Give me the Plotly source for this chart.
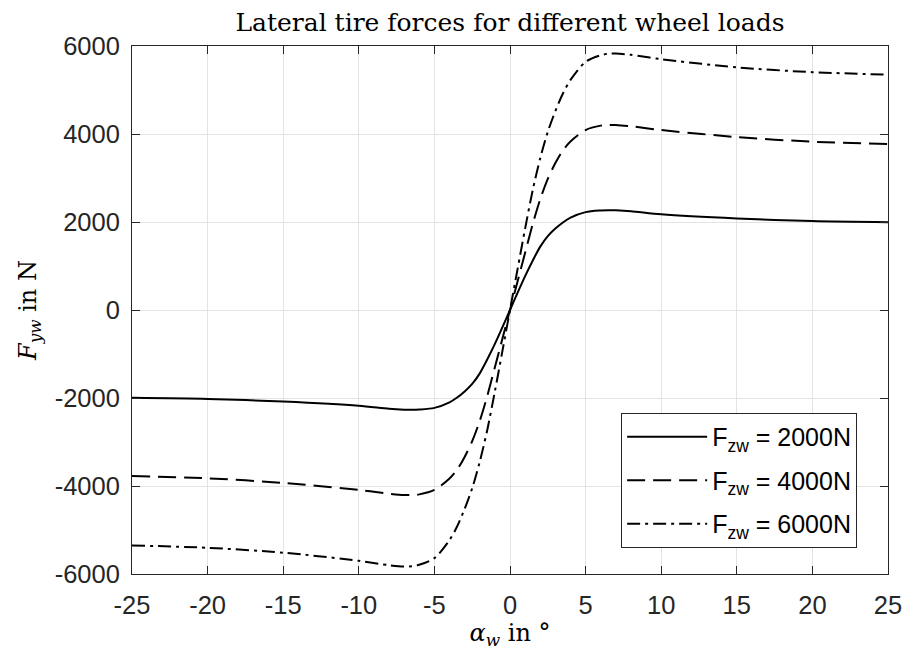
import plotly.graph_objects as go

# Slip angle samples (deg) and lateral tire force (N) for three wheel loads
alpha_w = [-25, -20, -15, -10, -8, -7, -6.5, -6, -5, -4, -3.5, -3, -2.5, -2, -1.5, -1, -0.5,
           0, 0.5, 1, 1.5, 2, 2.5, 3, 3.5, 4, 5, 6, 6.5, 7, 8, 10, 15, 20, 25]

fy_2000 = [-1995, -2020, -2080, -2175, -2245, -2265, -2268, -2262, -2225, -2100, -1990, -1850, -1680, -1440, -1120, -770, -390,
           0, 390, 770, 1120, 1440, 1680, 1850, 1990, 2100, 2225, 2262, 2268, 2265, 2245, 2175, 2080, 2020, 1995]

fy_4000 = [-3775, -3825, -3930, -4090, -4175, -4205, -4205, -4190, -4090, -3830, -3630, -3340, -2980, -2520, -1950, -1300, -650,
           0, 650, 1300, 1950, 2520, 2980, 3340, 3630, 3830, 4090, 4190, 4205, 4205, 4175, 4090, 3930, 3825, 3775]

fy_6000 = [-5350, -5405, -5515, -5700, -5800, -5830, -5825, -5790, -5640, -5230, -4920, -4520, -4050, -3450, -2720, -1850, -930,
           0, 930, 1850, 2720, 3450, 4050, 4520, 4920, 5230, 5640, 5790, 5825, 5830, 5800, 5700, 5515, 5405, 5350]

series_names = ["F<sub>zw</sub> = 2000N", "F<sub>zw</sub> = 4000N", "F<sub>zw</sub> = 6000N"]
x_ticks = [-25, -20, -15, -10, -5, 0, 5, 10, 15, 20, 25]
y_ticks = [-6000, -4000, -2000, 0, 2000, 4000, 6000]

dash_styles = ["solid", "18px,8px", "13px,5px,3px,5px"]

serif = "DejaVu Serif, Liberation Serif, serif"
sans = "Liberation Sans, Arial, sans-serif"

fig = go.Figure()
for i, (name, fy, dash) in enumerate(zip(series_names, [fy_2000, fy_4000, fy_6000], dash_styles)):
    fig.add_trace(go.Scatter(
        x=alpha_w, y=fy, mode="lines", name=name, legendgroup=f"g{i}",
        line=dict(color="black", width=2, dash=dash, shape="spline", smoothing=0.8),
    ))

axis_common = dict(
    showline=True, linecolor="#262626", linewidth=1, mirror="ticks",
    ticks="inside", ticklen=8, tickcolor="#262626", tickwidth=1,
    showgrid=True, gridcolor="#e3e3e3", gridwidth=1, zeroline=False,
    automargin=False,
    tickfont=dict(family=sans, size=25.5, color="#262626"),
)

fig.update_layout(
    template="none",
    width=904, height=655,
    margin=dict(l=131.5, r=16, t=45.5, b=80.5),
    paper_bgcolor="white", plot_bgcolor="white",
    title=dict(
        text="Lateral tire forces for different wheel loads",
        font=dict(family=serif, size=25, color="black"),
        x=0.5, xref="paper", xanchor="center", y=0.966, yanchor="middle",
    ),
    xaxis=dict(
        range=[-25, 25], tickvals=x_ticks, ticktext=[str(v) for v in x_ticks],
        ticklabelstandoff=8,
        title=dict(text="<i>α</i><sub><i>w</i></sub> in °", standoff=1,
                   font=dict(family=serif, size=24, color="black")),
        **axis_common,
    ),
    yaxis=dict(
        range=[-6000, 6000], tickvals=y_ticks, ticktext=[str(v) for v in y_ticks],
        ticklabelstandoff=6,
        title=dict(text="<i>F</i><sub><i>yw</i></sub> in N", standoff=11,
                   font=dict(family=serif, size=24, color="black")),
        **axis_common,
    ),
    legend=dict(
        x=0.647, y=0.305, xanchor="left", yanchor="top",
        bgcolor="white", bordercolor="#262626", borderwidth=1,
        font=dict(family=sans, size=25, color="black"),
        itemwidth=80, tracegroupgap=8,
    ),
    showlegend=True,
)

fig.write_html("out.html")
